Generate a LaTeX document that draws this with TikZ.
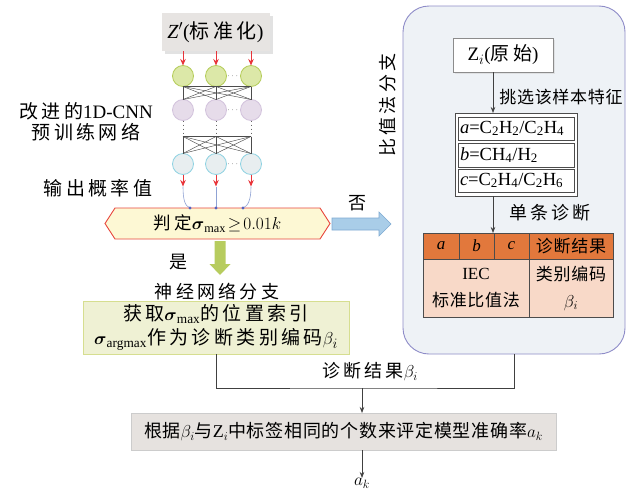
\documentclass[tikz,border=0pt]{standalone}
\usepackage{fontspec}
\usepackage{amsmath}
\setmainfont{Liberation Serif}
\newfontfamily\cjk[LetterSpace=4]{Noto Sans CJK SC}
\newfontfamily\cjkw[LetterSpace=18]{Noto Sans CJK SC}
\usetikzlibrary{shadows,arrows.meta,calc}
\definecolor{boxgray}{HTML}{E7E4E2}
\definecolor{netgreenF}{HTML}{DCE8A8}
\definecolor{netgreenD}{HTML}{B4CC58}
\definecolor{netpurpF}{HTML}{E6DCEA}
\definecolor{netpurpD}{HTML}{D2C2DC}
\definecolor{netcyanF}{HTML}{E8EEF0}
\definecolor{netcyanD}{HTML}{8ED2E2}
\definecolor{arrred}{HTML}{E8343A}
\definecolor{hexfill}{HTML}{FDF8D4}
\definecolor{hexdraw}{HTML}{E8463C}
\definecolor{bluearrF}{HTML}{A9CDE8}
\definecolor{bluearrD}{HTML}{7FAAD2}
\definecolor{greenarr}{HTML}{B7CC5E}
\definecolor{gboxF}{HTML}{EFF1D4}
\definecolor{gboxD}{HTML}{D6DE90}
\definecolor{panelF}{HTML}{EEF2F6}
\definecolor{panelD}{HTML}{8E8CC8}
\definecolor{orangeH}{HTML}{E2783C}
\definecolor{peach}{HTML}{F8D9C8}
\definecolor{curveblue}{HTML}{8FA2D4}
\definecolor{dotblue}{HTML}{5563C0}
\definecolor{fboxF}{HTML}{E6E2DF}
\begin{document}
\begin{tikzpicture}[x=1pt,y=-1pt,
  every node/.style={inner sep=0pt, outer sep=0pt, font=\fontsize{18}{21}\selectfont},
  neuron/.style={circle, minimum size=21pt, line width=0.8pt},
  ngreen/.style={neuron, fill=netgreenF, draw=netgreenD},
  npurp/.style={neuron, fill=netpurpF, draw=netpurpD},
  ncyan/.style={neuron, fill=netcyanF, draw=netcyanD},
  redarr/.style={draw=arrred, line width=1pt, -{Stealth[length=6.5pt,width=5.5pt]}},
  netline/.style={draw=black!70, line width=0.45pt},
  dotline/.style={draw=black!60, line width=1pt, dash pattern=on 1pt off 3pt},
  arr/.style={draw=black!75, line width=0.7pt, -{Stealth[length=6pt,width=4.5pt]}},
  plain/.style={draw=black!75, line width=0.7pt},
  curve/.style={draw=curveblue, line width=0.6pt},
  zbox/.style={fill=boxgray, minimum width=108pt, minimum height=38pt, drop shadow={shadow xshift=3pt, shadow yshift=-3pt, fill=black!22}},
  gbox/.style={fill=gboxF, draw=gboxD, line width=0.9pt, minimum width=266pt, minimum height=53pt, align=center, font=\fontsize{19}{24}\selectfont},
  panel/.style={fill=panelF, draw=panelD, line width=0.9pt, rounded corners=26pt, minimum width=222pt, minimum height=348pt},
  zibox/.style={fill=white, draw=black!45, line width=0.6pt, minimum width=100pt, minimum height=34pt, drop shadow={shadow xshift=2pt, shadow yshift=-2pt, fill=black!18}},
  featout/.style={fill=white, draw=black!70, line width=0.6pt, minimum width=122pt, minimum height=83pt},
  frow/.style={fill=white, draw=black!70, line width=0.6pt, minimum width=116pt, minimum height=23pt, text width=112pt, align=left, font=\fontsize{18.5}{21}\selectfont},
  hcell/.style={fill=orangeH, draw=black!70, line width=0.6pt, minimum height=26pt, font=\fontsize{17}{20}\selectfont},
  bcell/.style={fill=peach, draw=black!70, line width=0.6pt, minimum height=58pt, align=center, font=\fontsize{17}{27}\selectfont},
  fbox/.style={fill=fboxF, draw=black!20, line width=0.5pt, minimum width=425pt, minimum height=37pt, font=\fontsize{18}{21}\selectfont}
]
\useasboundingbox (0,0) rectangle (636,490);
\fill[white] (0,0) rectangle (636,490);

% ---- neural network branch ----
\node[zbox] (zp) at (215.5,32) {\fontsize{20}{22}\selectfont\textit{Z}$'$({\cjkw 标准化})};

\foreach \i/\x in {1/183,2/216,3/251} {
  \node[ngreen] (g\i) at (\x,76) {};
  \node[npurp] (p\i) at (\x,110) {};
  \node[ncyan] (c\i) at (\x,164) {};
}
\foreach \i in {1,2,3} {
  \draw[redarr] (zp.south -| g\i) -- (g\i.north);
  \coordinate (q\i) at ($(p\i.south)+(0,16)$);
  \coordinate (r\i) at ($(c\i.south)+(0,12)$);
  \draw[redarr] (c\i.south) -- (r\i);
  \draw[dotline] (p\i.south) -- (q\i);
}
\foreach \i in {1,2,3} {
  \foreach \j in {1,2,3} {
    \draw[netline] (g\i.south) -- (p\j.north);
    \draw[netline] (q\i) -- (c\j.north);
  }
}
\draw[netline] (g1.south) -- (g3.south);
\draw[netline] (q1) -- (q3);
\node[text=black!60, font=\fontsize{9}{9}\selectfont] (dg) at ($(g2)!0.5!(g3)$) {$\cdots$};
\node[text=black!60, font=\fontsize{9}{9}\selectfont] (dp) at ($(p2)!0.5!(p3)$) {$\cdots$};
\node[text=black!60, font=\fontsize{9}{9}\selectfont] (dc) at ($(c2)!0.5!(c3)$) {$\cdots$};

\node[align=center, font=\fontsize{19}{21}\selectfont] (lt) at (86,122) {{\cjkw 改进的}1D-CNN\\{\cjkw 预训练网络}};
\node[font=\fontsize{19}{21}\selectfont] (ot) at (98,188) {{\cjkw 输出概率值}};

% decision hexagon
\coordinate (hxc) at (217.5,223.5);
\filldraw[fill=hexfill, draw=hexdraw, line width=0.9pt]
  (105,223.5) -- (115,208) -- (320,208) -- (330,223.5) -- (320,239) -- (115,239) -- cycle;
\node[font=\fontsize{17.5}{20}\selectfont] (hx) at (hxc) {{\cjkw 判定}$\boldsymbol{\sigma}_{\max}\!\geq\! 0.01k$};

\coordinate (h1) at (190,208);
\coordinate (h2) at (216,208);
\coordinate (h3) at (243,208);
\draw[curve] (r1) .. controls (183,200) and (185,206) .. (h1);
\draw[curve] (r2) -- (h2);
\draw[curve] (r3) .. controls (251,200) and (248,206) .. (h3);
\foreach \i in {1,2,3} { \fill[dotblue] (h\i) circle (1.6); }

% "no" fat arrow
\filldraw[fill=bluearrF, draw=bluearrD, line width=0.6pt]
  (332,218) -- (379,218) -- (379,212) -- (391,224) -- (379,236) -- (379,230) -- (332,230) -- cycle;
\node (nolbl) at (357,203) {{\cjk 否}};

% "yes" fat arrow
\fill[greenarr]
  (214.5,241) -- (225.5,241) -- (225.5,264) -- (230.5,264) -- (220,275) -- (209.5,264) -- (214.5,264) -- cycle;
\node (yeslbl) at (178,262) {{\cjk 是}};

\node (nnlbl) at (217,292) {{\cjkw 神经网络分支}};
\node[gbox] (gb) at (216,327.5) {{\cjkw 获取}$\boldsymbol{\sigma}_{\max}${\cjkw 的位置索引}\\$\boldsymbol{\sigma}_{\mathrm{argmax}}${\cjkw 作为诊断类别编码}$\beta_i$};

% ---- ratio branch ----
\node[panel] (rp) at (514,180) {};
\node[rotate=90] (vl) at (388,105) {{\cjkw 比值法分支}};

\node[zibox] (zi) at (503,55) {\fontsize{19}{21}\selectfont Z$_i$({\cjkw 原始})};

\node[featout] (fo) at (516,154.5) {};
\node[frow] (f1) at (516,128.5) {\textit{a}=C\textsubscript{2}H\textsubscript{2}/C\textsubscript{2}H\textsubscript{4}};
\node[frow, minimum height=24pt] (f2) at (516,155) {\textit{b}=CH\textsubscript{4}/H\textsubscript{2}};
\node[frow] (f3) at (516,180.5) {\textit{c}=C\textsubscript{2}H\textsubscript{4}/C\textsubscript{2}H\textsubscript{6}};

\draw[arr] ([xshift=-10pt]zi.south) -- ([xshift=-10pt]zi.south |- fo.north);
\node[font=\fontsize{17}{20}\selectfont] (sel) at (561,97) {{\cjk 挑选该样本特征}};

\node[hcell, minimum width=36pt] (ha) at (441,246) {\textit{a}};
\node[hcell, minimum width=35pt] (hb) at (476.5,246) {\textit{b}};
\node[hcell, minimum width=35pt] (hc) at (511.5,246) {\textit{c}};
\node[hcell, minimum width=84pt] (hr) at (571,246) {{\cjk 诊断结果}};
\node[bcell, minimum width=106pt] (bl) at (476,288) {IEC\\{\cjk 标准比值法}};
\node[bcell, minimum width=84pt] (br) at (571,288) {{\cjk 类别编码}\\$\beta_i$};

\draw[arr] ([xshift=-23pt]fo.south) -- ([xshift=-23pt]fo.south |- hc.north);
\node (single) at (550,213) {{\cjkw 单条诊断}};

% ---- merge ----
\coordinate (mrg) at (362,388);
\draw[plain] (gb.south) |- (mrg) -| (rp.south);
\node (dl) at (370,372) {{\cjkw 诊断结果}$\beta_i$};
\node[fbox] (fb) at (343.5,431.5) {{\cjk 根据}$\beta_i${\cjk 与}Z$_i${\cjk 中标签相同的个数来评定模型准确率}$a_k$};
\draw[arr] (mrg) -- (mrg |- fb.north);
\node (ak) at (362,483) {$a_k$};
\draw[arr] (fb.south -| mrg) -- (ak.north);
\end{tikzpicture}
\end{document}
